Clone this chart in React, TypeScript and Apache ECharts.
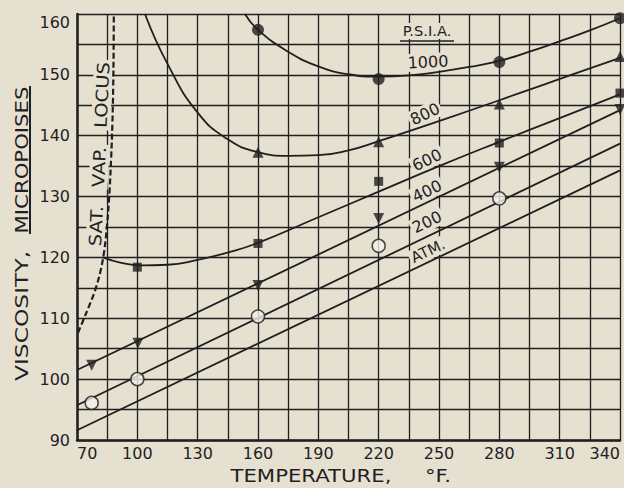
import React, { useEffect, useRef } from "react";
import * as echarts from "echarts";

// Tick labels
const xTickLabels = [70, 100, 130, 160, 190, 220, 250, 280, 310, 340];
const yTickLabels = [90, 100, 110, 120, 130, 140, 150, 160];

// Saturated vapour locus (dashed)
const satVapLocus = [
  [70.5, 107.6], [73, 109.6], [76, 112], [79, 114.6], [81.5, 117.5], [83.5, 121],
  [85, 125.5], [86.2, 131], [87, 136.5], [87.6, 142], [88, 148], [88.2, 154], [88.3, 160],
];

// 1000 psia
const curve1000 = [
  [153.5, 160], [160, 157.4], [175, 153.8], [190, 151.4], [205, 150.1], [220, 149.7],
  [235, 149.9], [250, 150.5], [265, 151.3], [280, 152.3], [295, 153.8], [310, 155.5],
  [325, 157.3], [340, 159.3],
];
const points1000 = [[160, 157.4], [220, 149.3], [280, 152.1], [340, 159.3]];

// 800 psia
const curve800 = [
  [103.8, 160], [115, 151.8], [130, 143.8], [145, 139.4], [160, 137.3], [175, 136.7],
  [190, 136.8], [205, 137.6], [220, 139.1], [240, 141.3], [265, 144.1], [290, 147],
  [315, 149.9], [340, 152.8],
];
const points800 = [[160, 137.3], [220, 139], [280, 145.2], [340, 153]];

// 600 psia
const curve600 = [
  [82.9, 120], [92, 119.1], [102, 118.7], [115, 118.8], [130, 119.6], [145, 120.8],
  [160, 122.4], [190, 126.6], [220, 130.8], [250, 135], [280, 139], [310, 142.9], [340, 146.8],
];
const points600 = [[100, 118.4], [160, 122.3], [220, 132.5], [280, 138.8], [340, 147]];

// 400 psia
const line400 = [[70, 101.5], [340, 144.2]];
const points400 = [[77.3, 102.3], [100.3, 105.9], [160, 115.4], [220, 126.4], [280, 134.8], [340, 144.3]];

// 200 psia
const line200 = [[70, 95.7], [340, 138.7]];
const points200 = [[77.3, 96.1], [100, 100], [160, 110.3], [220, 121.9], [280, 129.7]];

// Atmospheric
const lineAtm = [[70, 91.6], [340, 134.3]];

const INK = "#1f1f1f";
const PAPER = "#e6e0d1";
const FONT = "DejaVu Sans";

export default function App() {
  const ref = useRef<HTMLDivElement>(null);

  useEffect(() => {
    document.body.style.margin = "0";
    const chart = echarts.init(ref.current!, null, { renderer: "svg" });

    const curve = (data: number[][], smooth: number | boolean = 0.5) => ({
      type: "line",
      data,
      smooth,
      showSymbol: false,
      symbol: "none",
      lineStyle: { color: INK, width: 1.8 },
      z: 5,
      silent: true,
    });
    const marks = (data: number[][], symbol: string, size: number, extra: any = {}) => ({
      type: "scatter",
      data,
      symbol,
      symbolSize: size,
      itemStyle: { color: INK },
      z: 6,
      silent: true,
      ...extra,
    });

    const label = (text: string, x: number, y: number, rotation: number, fontSize = 16, scaleX = 1, bg = true) => ({
      type: "text",
      x,
      y,
      rotation,
      scaleX,
      z: 3,
      style: {
        text,
        fill: INK,
        fontSize,
        fontFamily: FONT,
        align: "center",
        verticalAlign: "middle",
        backgroundColor: bg ? PAPER : undefined,
        padding: bg ? [1, 2] : 0,
      },
    });

    const slope = 0.445;

    chart.setOption({
      animation: false,
      backgroundColor: PAPER,
      grid: { left: 77, right: 4, top: 14, bottom: 48 },
      xAxis: {
        type: "value",
        min: 70,
        max: 340,
        interval: 15,
        axisLine: { show: true, lineStyle: { color: INK, width: 2.5 } },
        axisTick: { show: false },
        splitLine: { show: true, lineStyle: { color: INK, width: 1.3 } },
        axisLabel: {
          formatter: (v: number) => (xTickLabels.includes(v) ? String(v) : ""),
          fontSize: 16,
          color: INK,
          fontFamily: FONT,
          margin: 5,
          alignMinLabel: "left",
          alignMaxLabel: "right",
        },
      },
      yAxis: {
        type: "value",
        min: 90,
        max: 160,
        interval: 5,
        axisLine: { show: true, lineStyle: { color: INK, width: 2.5 } },
        axisTick: { show: false },
        splitLine: { show: true, lineStyle: { color: INK, width: 1.3 } },
        axisLabel: {
          formatter: (v: number) => (yTickLabels.includes(v) ? String(v) : ""),
          fontSize: 16,
          color: INK,
          fontFamily: FONT,
          margin: 7,
          verticalAlignMaxLabel: "top",
        },
      },
      graphic: [
        label("SAT.", 96, 226, Math.PI / 2 - 0.045, 17, 1.15),
        label("VAP.", 99, 167, Math.PI / 2 - 0.045, 17, 1.15),
        label("LOCUS", 102, 95, Math.PI / 2 - 0.045, 17, 1.15),
        label("P.S.I.A.", 427, 31, 0, 14, 1.05),
        {
          type: "line",
          z: 3,
          shape: { x1: 400, y1: 41, x2: 454, y2: 41 },
          style: { stroke: INK, lineWidth: 1.5 },
        },
        label("1000", 428, 62, 0.05, 16),
        label("800", 425, 114, slope, 16),
        label("600", 427, 160, slope, 16),
        label("400", 427, 191, slope, 16),
        label("200", 427, 222, slope, 16),
        label("ATM.", 428, 251, slope, 15),
        label("VISCOSITY,", 22, 316, Math.PI / 2, 18, 1.3, false),
        label("MICROPOISES", 22, 160, Math.PI / 2, 18, 1.18, false),
        {
          type: "line",
          shape: { x1: 30, y1: 234, x2: 30, y2: 86 },
          style: { stroke: INK, lineWidth: 2 },
        },
        label("TEMPERATURE,", 311, 476, 0, 18, 1.18, false),
        label("°F.", 438, 476, 0, 18, 1.18, false),
      ],
      series: [
        {
          ...curve(satVapLocus, 0.4),
          lineStyle: { color: INK, width: 2.2, type: [6, 3] },
        },
        curve(curve1000),
        curve(curve800),
        curve(curve600),
        curve(line400, false),
        curve(line200, false),
        curve(lineAtm, false),
        marks(points1000, "circle", 12),
        marks(points800, "triangle", 11),
        marks(points600, "rect", 9),
        marks(points400, "triangle", 11, { symbolRotate: 180 }),
        marks(points200, "circle", 13, {
          itemStyle: { color: "#f4f1ea", borderColor: INK, borderWidth: 1.5 },
        }),
      ],
    });

    return () => chart.dispose();
  }, []);

  return <div ref={ref} style={{ width: 624, height: 488, background: PAPER }} />;
}
